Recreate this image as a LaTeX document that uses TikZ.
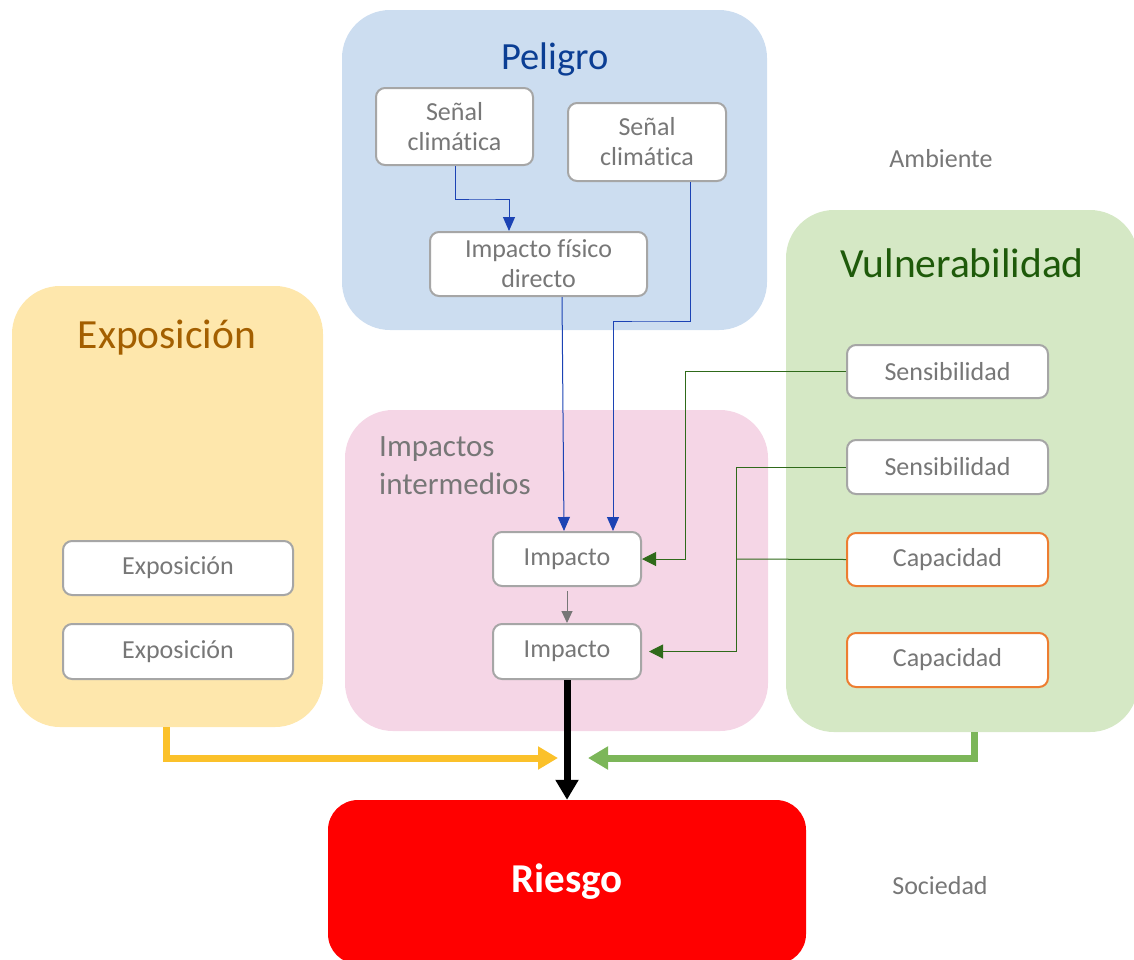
\documentclass[tikz,border=0pt]{standalone}
\usepackage{fontspec}
\setmainfont[Ligatures={NoCommon,NoRare,NoContextual}]{Carlito}
\usetikzlibrary{arrows.meta}
\definecolor{pelFill}{HTML}{CCDDF0}
\definecolor{pelText}{HTML}{0B3E94}
\definecolor{vulFill}{HTML}{D5E8C5}
\definecolor{vulText}{HTML}{1E5A0A}
\definecolor{expFill}{HTML}{FEE7AC}
\definecolor{expText}{HTML}{A35F00}
\definecolor{impFill}{HTML}{F5D6E6}
\definecolor{boxLine}{HTML}{A6A6A6}
\definecolor{boxText}{HTML}{777777}
\definecolor{orangeLine}{HTML}{ED7D31}
\definecolor{blueArr}{HTML}{1C43B4}
\definecolor{greenArr}{HTML}{2F6A1A}
\definecolor{yellowArr}{HTML}{FBC12A}
\definecolor{greenThick}{HTML}{7CB659}
\definecolor{riskRed}{HTML}{FF0000}
\begin{document}
\begin{tikzpicture}[x=1pt,y=-1pt,
  group/.style={draw=none,rounded corners=48pt,inner sep=0pt},
  item/.style={draw=boxLine,line width=2pt,fill=white,rounded corners=9pt,
    text=boxText,align=center,font=\fontsize{26}{30}\selectfont,inner sep=0pt},
  capbox/.style={item,draw=orangeLine},
  title/.style={font=\fontsize{38.5}{44}\selectfont,inner sep=0pt},
  note/.style={text=boxText,font=\fontsize{26}{30}\selectfont,inner sep=0pt},
  bluearrow/.style={draw=blueArr,line width=1pt,-{Triangle[length=14pt,width=12pt]}},
  greenarrow/.style={draw=greenArr,line width=1pt,-{Triangle[length=14pt,width=14pt]}},
  greenline/.style={draw=greenArr,line width=1pt},
  greyarrow/.style={draw=boxText,line width=1pt,-{Triangle[length=12pt,width=11pt]}},
  thickarrow/.style={line width=7pt,-{Triangle[length=20pt,width=22pt]}}
]
\useasboundingbox (0,0) rectangle (1134,959);

% group boxes
\node[group,fill=pelFill,minimum width=425pt,minimum height=320pt] (peligro) at (554.5,170) {};
\node[group,fill=vulFill,minimum width=352pt,minimum height=522pt] (vuln) at (962,471) {};
\node[group,fill=expFill,minimum width=311pt,minimum height=441pt] (expo) at (167.5,506.5) {};
\node[group,fill=impFill,minimum width=423pt,minimum height=321pt] (impint) at (556.5,570.5) {};
\node[group,fill=riskRed,rounded corners=30pt,minimum width=478pt,minimum height=164pt,
  text=white,font=\fontsize{41}{48}\selectfont\bfseries] (riesgo) at (567,882) {Riesgo};

% titles
\node[title,text=pelText] (tpel) at (555,59) {Peligro};
\node[title,text=vulText,font=\fontsize{41.5}{48}\selectfont] (tvul) at (962,263) {Vulnerabilidad};
\node[title,text=expText,font=\fontsize{41.5}{48}\selectfont] (texp) at (167,338) {Exposición};
\node[note,align=left,anchor=north west,font=\fontsize{31}{38}\selectfont] (timp) at (379,436) {Impactos\\intermedios};
\node[note] (amb) at (941,159) {Ambiente};
\node[note] (soc) at (940,886) {Sociedad};

% Peligro items
\node[item,minimum width=157pt,minimum height=77pt] (s1) at (454.5,126.5) {Señal\\climática};
\node[item,minimum width=158pt,minimum height=78pt] (s2) at (647,142) {Señal\\climática};
\node[item,minimum width=217pt,minimum height=64pt] (ifd) at (538.5,264) {Impacto físico\\directo};

% Vulnerabilidad items
\node[item,minimum width=201pt,minimum height=53pt] (sen1) at (947.5,371.5) {Sensibilidad};
\node[item,minimum width=201pt,minimum height=54pt] (sen2) at (947.5,467) {Sensibilidad};
\node[capbox,minimum width=201pt,minimum height=53pt] (cap1) at (947.5,559.5) {Capacidad};
\node[capbox,minimum width=201pt,minimum height=54pt] (cap2) at (947.5,660) {Capacidad};

% Exposicion items
\node[item,minimum width=230pt,minimum height=54pt] (e1) at (178,568) {Exposición};
\node[item,minimum width=230pt,minimum height=55pt] (e2) at (178,651.5) {Exposición};

% Impacto items
\node[item,minimum width=148pt,minimum height=54pt] (i1) at (567,559) {Impacto};
\node[item,minimum width=148pt,minimum height=55pt] (i2) at (567,651.5) {Impacto};

% connectors
\draw[bluearrow] (s1.south -| 455,0) |- (482,199) -| (ifd.north -| 509,0);
\draw[bluearrow] (ifd.south -| 562,0) -- (i1.north -| 564,0);
\draw[bluearrow] (s2.south -| 690,0) |- (650,321) -| (i1.north -| 613,0);
\draw[greenarrow] (sen1.west) -| (685,450) |- (i1.east);
\draw[greenarrow] (sen2.west) -| (736,560) |- ([xshift=7pt]i2.east);
\coordinate (j) at (736,559);
\draw[greenline] (cap1.west) -- (j);
\draw[greyarrow] (567,591) -- (i2.north);
\draw[thickarrow,black] (i2.south) -- (riesgo.north);
\coordinate (ycorner) at (166.5,758);
\coordinate (gcorner) at (974,758);
\draw[thickarrow,yellowArr] (expo.south -| ycorner) |- (558,758);
\draw[thickarrow,greenThick] (vuln.south -| gcorner) |- (588,758);
\end{tikzpicture}
\end{document}
